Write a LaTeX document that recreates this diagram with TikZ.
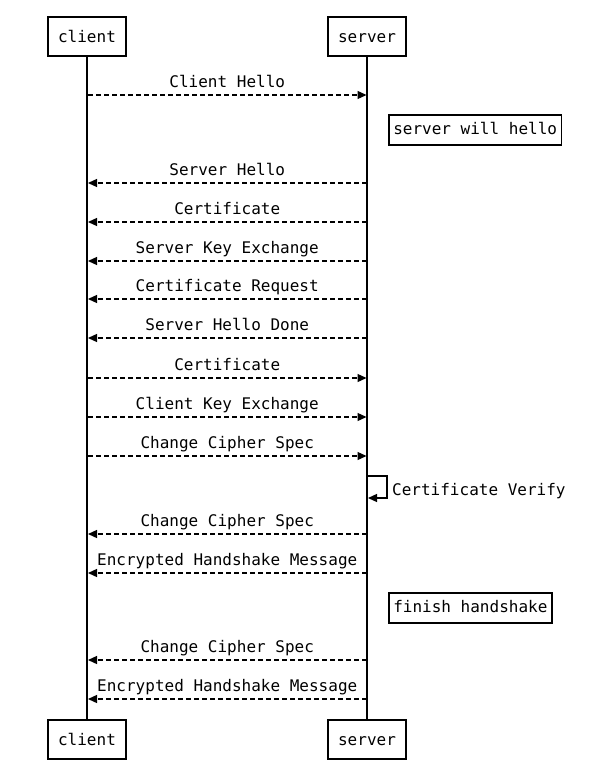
\documentclass[tikz,border=0pt]{standalone}
\usepackage{fontspec}
\setmonofont{DejaVu Sans Mono}
\usetikzlibrary{arrows.meta}
\begin{document}
\begin{tikzpicture}[x=1pt,y=-1pt,
  font=\ttfamily\fontsize{16}{19}\selectfont,
  actor/.style={draw,line width=1.6pt,minimum width=78pt,minimum height=39pt,inner sep=0pt,fill=white,text height=13pt,text depth=1.5pt},
  life/.style={line width=1.6pt},
  msg/.style={dashed,dash pattern=on 5pt off 3pt,line width=1.3pt,-{Triangle[length=9pt,width=8pt]}},
  lbl/.style={anchor=base,inner sep=0pt},
  note/.style={draw,line width=1.6pt,anchor=west,inner xsep=4.5pt,inner ysep=6.5pt,text height=12.5pt,text depth=4pt}]
\useasboundingbox (0,0) rectangle (614,781);
% actors
\node[actor] (ct) at (87,36.5) {client};
\node[actor] (st) at (367,36.5) {server};
\node[actor] (cb) at (87,739.5) {client};
\node[actor] (sb) at (367,739.5) {server};
\draw[life] (ct.south) -- (cb.north);
\draw[life] (st.south) -- (sb.north);
% message end points
\foreach \n/\y in {1/95,3/183,4/222,5/261,6/299,7/338,8/378,9/417,10/456,12/534,13/573,15/660,16/699}{
  \coordinate (c\n) at (88,\y);
  \coordinate (s\n) at (366.5,\y);
}
\draw[msg] (c1) -- (s1) node[lbl,midway,yshift=7.5pt] {Client Hello};
\node[note] (n1) at (388,130) {server will hello};
\draw[msg] (s3) -- (c3) node[lbl,midway,yshift=7.5pt] {Server Hello};
\draw[msg] (s4) -- (c4) node[lbl,midway,yshift=7.5pt] {Certificate};
\draw[msg] (s5) -- (c5) node[lbl,midway,yshift=7.5pt] {Server Key Exchange};
\draw[msg] (s6) -- (c6) node[lbl,midway,yshift=7.5pt] {Certificate Request};
\draw[msg] (s7) -- (c7) node[lbl,midway,yshift=7.5pt] {Server Hello Done};
\draw[msg] (c8) -- (s8) node[lbl,midway,yshift=7.5pt] {Certificate};
\draw[msg] (c9) -- (s9) node[lbl,midway,yshift=7.5pt] {Client Key Exchange};
\draw[msg] (c10) -- (s10) node[lbl,midway,yshift=7.5pt] {Change Cipher Spec};
% self message
\coordinate (sl1) at (367,476);
\coordinate (sl2) at (368,498);
\draw[line width=1.3pt,-{Triangle[length=9pt,width=8pt]}] (sl1) -- (387,476) -- (387,498) -- (sl2);
\node[anchor=west,inner sep=0pt] (cv) at (392,491) {Certificate Verify};
\draw[msg] (s12) -- (c12) node[lbl,midway,yshift=7.5pt] {Change Cipher Spec};
\draw[msg] (s13) -- (c13) node[lbl,midway,yshift=7.5pt] {Encrypted Handshake Message};
\node[note] (n2) at (388,608) {finish handshake};
\draw[msg] (s15) -- (c15) node[lbl,midway,yshift=7.5pt] {Change Cipher Spec};
\draw[msg] (s16) -- (c16) node[lbl,midway,yshift=7.5pt] {Encrypted Handshake Message};
\end{tikzpicture}
\end{document}
